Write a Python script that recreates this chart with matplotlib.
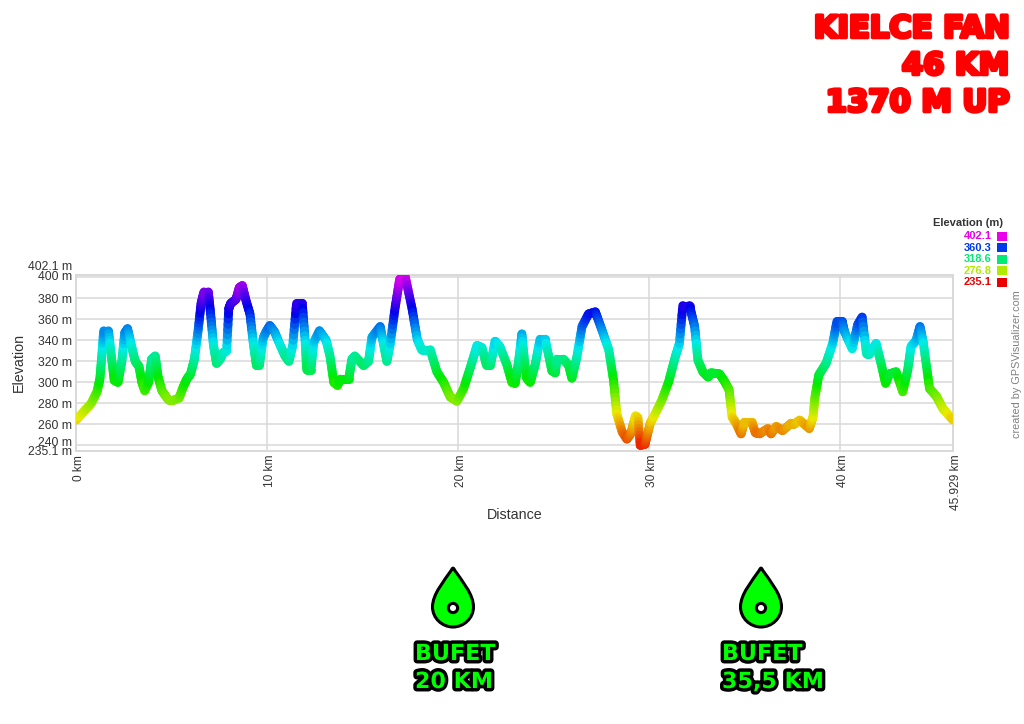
import colorsys
import numpy as np
import matplotlib
matplotlib.use("Agg")
import matplotlib.pyplot as plt
import matplotlib.patheffects as pe
from matplotlib.collections import LineCollection
from matplotlib.path import Path
from matplotlib.patches import PathPatch, Circle, Rectangle
from matplotlib.transforms import ScaledTranslation

plt.rcParams["font.family"] = ["Liberation Sans", "DejaVu Sans"]

# km along the route
distance = [0, 0.4, 0.8, 1.1, 1.25, 1.35, 1.45, 1.7, 1.85, 2.0, 2.2, 2.4, 2.55, 2.7, 2.9, 3.1, 3.3, 3.45, 3.6,
            3.8, 3.96, 4.15, 4.3, 4.5, 4.85, 5.1, 5.4, 5.6, 5.8, 6.0, 6.2, 6.4, 6.55, 6.7, 6.93, 7.05, 7.2,
            7.36, 7.55, 7.7, 7.89, 8.0, 8.1, 8.38, 8.55, 8.71, 8.9, 9.11, 9.3, 9.45, 9.6, 9.8, 9.95, 10.15,
            10.4, 10.7, 10.95, 11.15, 11.35, 11.55, 11.85, 12.0, 12.08, 12.3, 12.45, 12.75, 13.1, 13.3, 13.5,
            13.7, 13.84, 14.28, 14.45, 14.6, 15.06, 15.32, 15.5, 15.93, 16.1, 16.28, 16.46, 16.72, 16.95,
            17.25, 17.6, 17.87, 18.1, 18.55, 18.9, 19.25, 19.6, 19.95, 20.3, 20.65, 21.0, 21.26, 21.5, 21.7,
            21.95, 22.2, 22.56, 22.83, 23.0, 23.18, 23.35, 23.5, 23.6, 23.79, 24.05, 24.3, 24.57, 24.92, 25.1,
            25.18, 25.53, 25.8, 25.97, 26.23, 26.5, 26.84, 27.2, 27.54, 27.9, 28.15, 28.32, 28.6, 28.85, 29.05,
            29.3, 29.43, 29.55, 29.8, 30.07, 30.33, 30.68, 31.03, 31.38, 31.6, 31.78, 32.13, 32.4, 32.57,
            32.83, 33.1, 33.26, 33.7, 33.96, 34.2, 34.36, 34.57, 34.83, 35.0, 35.4, 35.58, 35.8, 36.23, 36.4,
            36.67, 37.0, 37.45, 37.6, 37.9, 38.4, 38.6, 38.7, 38.9, 39.28, 39.63, 39.85, 40.12, 40.25, 40.65,
            40.94, 41.17, 41.4, 41.55, 41.9, 42.16, 42.4, 42.6, 42.95, 43.3, 43.56, 43.73, 44.0, 44.2, 44.38,
            44.7, 45.05, 45.4, 45.929]
elevation = [264, 272, 280, 291, 303, 325, 349, 349, 325, 302, 300, 320, 347, 351, 335, 320, 315, 300, 292,
             300, 322, 325, 305, 292, 283, 283, 285, 295, 303, 308, 322, 350, 375, 386, 386, 365, 335,
             318, 322, 328, 330, 370, 375, 379, 390, 392, 378, 365, 335, 316, 316, 342, 348, 354,
             348, 335, 325, 320, 335, 375, 375, 340, 312, 312, 338, 349, 340, 325, 300,
             297, 303, 303, 322, 325, 316, 320, 343, 353, 337, 320, 337, 372, 398,
             400, 370, 341, 331, 331, 310, 300, 286, 282, 294, 314, 335, 333, 316, 316,
             339, 334, 317, 300, 299, 320, 346, 318, 304, 300, 317, 341, 341, 311, 309,
             322, 322, 316, 304, 324, 353, 365, 367, 350, 331, 302, 270, 253, 246, 251,
             268, 266, 240, 241, 261, 270, 283, 300, 324, 337, 373, 373, 353, 321,
             310, 305, 309, 308, 301, 293, 267, 261, 251, 262, 262, 252, 251, 256, 251,
             258, 254, 261, 260, 264, 256, 267, 286, 307, 318, 337, 358, 358, 348, 332,
             355, 362, 327, 327, 337, 318, 299, 308, 310, 291, 312, 334, 340, 353, 337,
             294, 287, 275, 264]

ele_min = 235.1
ele_max = 402.1
dist_max = 45.929
y_ticks = [235.1, 240, 260, 280, 300, 320, 340, 360, 380, 400, 402.1]
y_labels = ["235.1 m", "240 m", "260 m", "280 m", "300 m", "320 m", "340 m", "360 m", "380 m", "400 m", "402.1 m"]
x_ticks = [0, 10, 20, 30, 40, 45.929]
x_labels = ["0 km", "10 km", "20 km", "30 km", "40 km", "45.929 km"]
legend_values = ["402.1", "360.3", "318.6", "276.8", "235.1"]
title_lines = ["KIELCE FAN", "46 KM", "1370 M UP"]
buffets = [("BUFET", "20 KM"), ("BUFET", "35,5 KM")]

W, H = 1024, 724
TEXT = "#333333"
GRID = "#d9d9d9"


def ele_color(e):
    # red at the bottom, round the hue wheel to magenta at the top
    t = (e - ele_min) / (ele_max - ele_min)
    return colorsys.hsv_to_rgb(np.clip(t, 0, 1) * 300 / 360, 1.0, 0.92)


fig = plt.figure(figsize=(W / 100, H / 100), dpi=100, facecolor="white")
ax = fig.add_axes([76 / W, (H - 450.5) / H, 877 / W, 175.5 / H])
ax.set_xlim(0, dist_max)
ax.set_ylim(ele_min, ele_max)

ax.set_yticks(y_ticks)
ax.set_yticklabels(y_labels, fontsize=8.8, color=TEXT)
ax.set_xticks(x_ticks)
ax.set_xticklabels(x_labels, fontsize=8.6, color=TEXT, rotation=90)
ax.tick_params(length=0, pad=3)
ax.grid(True, color=GRID, lw=1.1)
ax.set_axisbelow(True)
for s in ax.spines.values():
    s.set_color(GRID)
    s.set_linewidth(1.4)

# labels that crowd each other are pushed apart like in the original
for lab, txt in zip(ax.get_yticklabels(), y_labels):
    dy = {"402.1 m": 9, "400 m": 2, "240 m": 4}.get(txt, 0)
    if dy:
        lab.set_transform(lab.get_transform() + ScaledTranslation(0, dy / 100, fig.dpi_scale_trans))
for lab in ax.get_xticklabels():
    lab.set_transform(lab.get_transform() + ScaledTranslation(3 / 100, 0, fig.dpi_scale_trans))

ax.text(-3.0, 318.6, "Elevation", rotation=90, fontsize=10.3, color=TEXT, ha="center", va="center")
ax.set_xlabel("Distance", fontsize=10.3, color=TEXT, labelpad=0)
ax.xaxis.set_label_coords(0.5, -0.33)

# split every segment so the colour can follow the height
xs, ys = [], []
for i in range(len(distance) - 1):
    xs.extend(np.linspace(distance[i], distance[i + 1], 8, endpoint=False))
    ys.extend(np.linspace(elevation[i], elevation[i + 1], 8, endpoint=False))
xs.append(distance[-1])
ys.append(elevation[-1])
pts = np.column_stack([xs, ys])
segs = np.stack([pts[:-1], pts[1:]], axis=1)
cols = [ele_color(e) for e in (pts[:-1, 1] + pts[1:, 1]) / 2]
ax.add_collection(LineCollection(segs, colors=cols, linewidths=6.4, capstyle="round", joinstyle="round", zorder=3))

# everything else sits on a pixel overlay
ov = fig.add_axes([0, 0, 1, 1], facecolor="none")
ov.set_xlim(0, W)
ov.set_ylim(H, 0)
ov.axis("off")

for i, line in enumerate(title_lines):
    ov.text(1009, 29 + i * 37, line, ha="right", va="center", fontsize=22, color="#ff0000",
            family="DejaVu Sans", weight="bold",
            path_effects=[pe.withStroke(linewidth=2.6, foreground="#ff0000")])

ov.text(1003, 223.5, "Elevation (m)", ha="right", va="center", fontsize=8, weight="bold", color=TEXT)
for i, val in enumerate(legend_values):
    c = ele_color(float(val))
    yy = 236 + i * 11.6
    ov.text(991.5, yy, val, ha="right", va="center", fontsize=8, weight="bold", color=c)
    ov.add_patch(Rectangle((997.3, yy - 4.5), 9.4, 9, facecolor=c, edgecolor="none"))

ov.text(1017.5, 364, "created by GPSVisualizer.com", rotation=90, ha="center", va="center", fontsize=7.8, color="#808080")


def drop(cx):
    top, bottom, half = 568, 627, 20.5
    verts = [(cx - 1.5, top + 2),
             (cx - 0.5, top - 0.5), (cx + 0.5, top - 0.5), (cx + 1.5, top + 2),
             (cx + 9, top + 13), (cx + half, top + 26), (cx + half, top + 39),
             (cx + half, top + 50), (cx + 11, bottom), (cx, bottom),
             (cx - 11, bottom), (cx - half, top + 50), (cx - half, top + 39),
             (cx - half, top + 26), (cx - 9, top + 13), (cx - 1.5, top + 2),
             (cx - 1.5, top + 2)]
    codes = [Path.MOVETO] + [Path.CURVE4] * 15 + [Path.CLOSEPOLY]
    ov.add_patch(PathPatch(Path(verts, codes), facecolor="#00ff00", edgecolor="black", lw=2.2, joinstyle="round"))
    ov.add_patch(Circle((cx, 608), 4.6, facecolor="white", edgecolor="black", lw=2.2))


outline = [pe.withStroke(linewidth=5, foreground="black")]
for cx, left, (top_line, km_line) in zip([453, 761], [415, 722], buffets):
    drop(cx)
    ov.text(left, 654, top_line, ha="left", va="center", fontsize=16, color="#00ff00",
            family="DejaVu Sans", weight="bold", path_effects=outline)
    ov.text(left, 682, km_line, ha="left", va="center", fontsize=16, color="#00ff00",
            family="DejaVu Sans", weight="bold", path_effects=outline)

fig.savefig("out.png", dpi=100, facecolor="white")
